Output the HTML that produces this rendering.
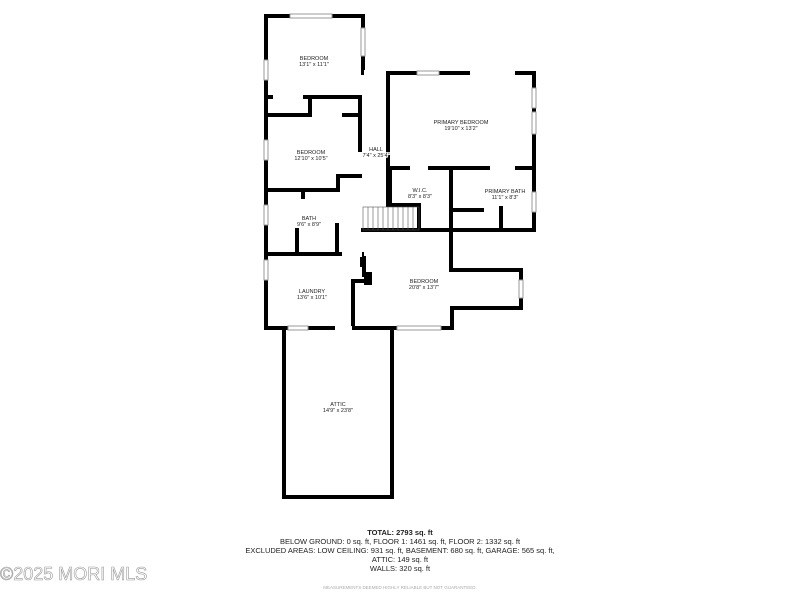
<!DOCTYPE html>
<html><head><style>
html,body{margin:0;padding:0;background:#fff;}
svg{display:block}
text{font-family:"Liberation Sans",sans-serif;fill:#222}
</style></head><body>
<svg width="800" height="600" viewBox="0 0 800 600" xmlns="http://www.w3.org/2000/svg">
<rect width="800" height="600" fill="#fff"/>
<g stroke="#000" stroke-width="4" fill="none" stroke-linecap="square">
<path d="M266,16 H363 V73"/>
<path d="M266,16 V328"/>
<path d="M266,97 H360 V150"/>
<path d="M310,97 V115"/>
<path d="M266,115 H360"/>
<path d="M338,190 V176 H360"/>
<path d="M266,190 H338"/>
<path d="M303,190 V197"/>
<path d="M337,225 V253"/>
<path d="M297,230 V253"/>
<path d="M266,254 H340"/>
<path d="M362,254 V265"/>
<path d="M266,328 H333"/>
<path d="M388,73 H534 V230"/>
<path d="M388,73 V205"/>
<path d="M390,168 H534"/>
<path d="M390,168 V205 H419 V230"/>
<path d="M363,230 H534"/>
<path d="M451,168 V270 H521 V308 H452 V328"/>
<path d="M453,210 H482"/>
<path d="M501,208 V230"/>
<path d="M353,281 V328 H452"/>
<path d="M353,281 H366"/>
<path d="M364,258 V275"/>
<path d="M284,328 V497 H392 V328"/>
</g>
<rect x="364" y="272" width="8" height="13" fill="#000"/>
<g fill="#fff" stroke="#999" stroke-width="1">
<rect x="290" y="14" width="42" height="4"/>
<rect x="361" y="28" width="4" height="28"/>
<rect x="264" y="60" width="4" height="20"/>
<rect x="264" y="140" width="4" height="20"/>
<rect x="264" y="205" width="4" height="20"/>
<rect x="264" y="260" width="4" height="20"/>
<rect x="417" y="71" width="22" height="4"/>
<rect x="532" y="88" width="4" height="20"/>
<rect x="532" y="112" width="4" height="22"/>
<rect x="532" y="192" width="4" height="20"/>
<rect x="519" y="280" width="4" height="18"/>
<rect x="397" y="326" width="44" height="4"/>
<rect x="288" y="326" width="20" height="4"/>
</g>
<g fill="#fff">
<rect x="470" y="70" width="45" height="7"/>
<rect x="364" y="70" width="22" height="6"/>
<rect x="312" y="113" width="30" height="5"/>
<rect x="273" y="95" width="30" height="5"/>
<rect x="340" y="326" width="12" height="5"/>
<rect x="410" y="166" width="18" height="5"/>
<rect x="490" y="166" width="25" height="5"/>
<rect x="350" y="252" width="12" height="5"/>
</g>
<g stroke="#555" stroke-width="0.6">
<rect x="363" y="207" width="56" height="23" fill="none"/>
<line x1="368" y1="207" x2="368" y2="230"/><line x1="373" y1="207" x2="373" y2="230"/>
<line x1="378" y1="207" x2="378" y2="230"/><line x1="383" y1="207" x2="383" y2="230"/>
<line x1="388" y1="207" x2="388" y2="230"/><line x1="393" y1="207" x2="393" y2="230"/>
<line x1="398" y1="207" x2="398" y2="230"/><line x1="403" y1="207" x2="403" y2="230"/>
<line x1="408" y1="207" x2="408" y2="230"/><line x1="413" y1="207" x2="413" y2="230"/>
</g>
<g font-size="5.5" text-anchor="middle">
<text x="314" y="60">BEDROOM</text><text x="314" y="66">13'1" x 11'1"</text>
<text x="311" y="154">BEDROOM</text><text x="311" y="160">12'10" x 10'5"</text>
<text x="376" y="151">HALL</text><text x="376" y="157" style="paint-order:stroke;stroke:#fff;stroke-width:1.5">7'4" x 25'4"</text>
<text x="461" y="124">PRIMARY BEDROOM</text><text x="461" y="130">19'10" x 13'2"</text>
<text x="420" y="192">W.I.C.</text><text x="420" y="198">8'3" x 8'3"</text>
<text x="505" y="193">PRIMARY BATH</text><text x="505" y="199">11'1" x 8'3"</text>
<text x="309" y="220">BATH</text><text x="309" y="226">9'6" x 8'9"</text>
<text x="424" y="283">BEDROOM</text><text x="424" y="289">20'8" x 13'7"</text>
<text x="312" y="293">LAUNDRY</text><text x="312" y="299">13'6" x 10'1"</text>
<text x="338" y="406">ATTIC</text><text x="338" y="412">14'9" x 23'8"</text>
</g>
<g font-size="7.5" text-anchor="middle">
<text x="400" y="535" font-weight="bold">TOTAL: 2793 sq. ft</text>
<text x="400" y="544">BELOW GROUND: 0 sq. ft, FLOOR 1: 1461 sq. ft, FLOOR 2: 1332 sq. ft</text>
<text x="400" y="553">EXCLUDED AREAS: LOW CEILING: 931 sq. ft, BASEMENT: 680 sq. ft, GARAGE: 565 sq. ft,</text>
<text x="400" y="562">ATTIC: 149 sq. ft</text>
<text x="400" y="571">WALLS: 320 sq. ft</text>
<text x="400" y="589" font-size="4.5" style="fill:#aaa">MEASUREMENTS DEEMED HIGHLY RELIABLE BUT NOT GUARANTEED.</text>
</g>
<text x="0" y="580" font-size="18" style="fill:#fff;stroke:#999;stroke-width:0.6" font-family="Liberation Sans">©2025 MORI MLS</text>
</svg>
</body></html>
